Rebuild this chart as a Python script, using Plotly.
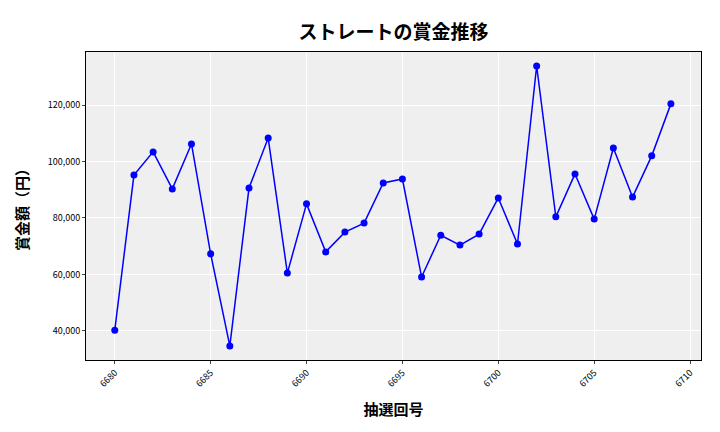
import plotly.graph_objects as go

draws = list(range(6680, 6710))
prizes = [40300, 95200, 103400, 90300, 106200, 67300, 34700, 90600, 108300, 60500,
          85000, 68000, 75000, 78200, 92400, 93800, 59100, 73900, 70400, 74300,
          87100, 70800, 133800, 80400, 95600, 79600, 104800, 87400, 102000, 120400]

fig = go.Figure(go.Scatter(x=draws, y=prizes, mode="lines+markers",
                           line=dict(color="blue", width=1.5),
                           marker=dict(color="blue", size=7)))
font = "Noto Sans CJK JP"
fig.update_layout(
    width=720, height=432, paper_bgcolor="white", plot_bgcolor="#efefef",
    margin=dict(l=78, r=27, t=44, b=80),
    title=dict(text="<b>ストレートの賞金推移</b>", x=0.5, xanchor="center", xref="paper",
               y=0.96, font=dict(family=font, size=19, color="black")),
    font=dict(family=font, color="black"),
    showlegend=False,
)
fig.update_xaxes(range=[6678.5, 6710.57], tickvals=[6680, 6685, 6690, 6695, 6700, 6705, 6710],
                 tickangle=-45, tickfont=dict(size=9), showgrid=True, gridcolor="white",
                 zeroline=False, showline=True, linecolor="black", mirror=True,
                 ticks="outside", ticklen=3,
                 title=dict(text="<b>抽選回号</b>", font=dict(size=15)))
fig.update_yaxes(range=[29730, 138760], tickvals=[40000, 60000, 80000, 100000, 120000],
                 tickformat=",", tickfont=dict(size=9), showgrid=True, gridcolor="white",
                 zeroline=False, showline=True, linecolor="black", mirror=True,
                 ticks="outside", ticklen=3,
                 title=dict(text="<b>賞金額（円）</b>", font=dict(size=15)))
fig.write_html("out.html")
